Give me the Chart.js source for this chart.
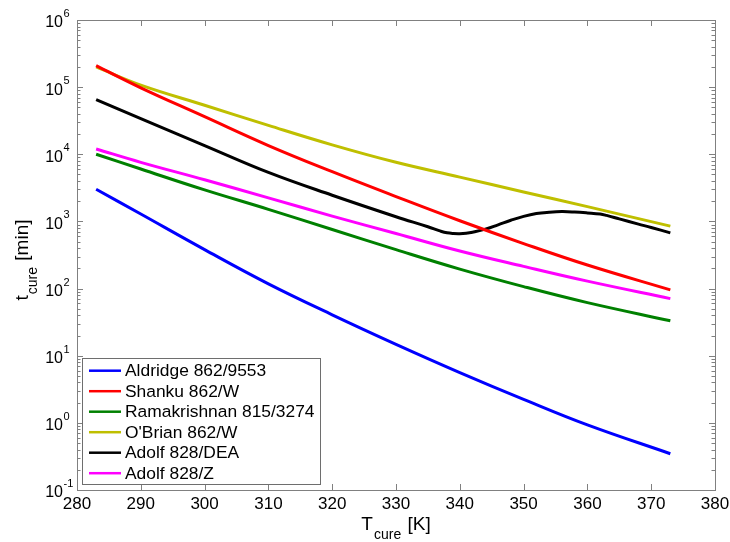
<!DOCTYPE html>
<html>
<head>
<meta charset="utf-8">
<script src="https://cdn.jsdelivr.net/npm/chart.js@4.4.1/dist/chart.umd.min.js"></script>
<style>
  body { margin: 0; background: #fff; }
</style>
</head>
<body>
<canvas id="cureChart" width="730" height="542"></canvas>
<script>
// ================= DATA =================
const temps = [283, 290, 300, 310, 320, 330, 340, 350, 360, 373];

const aldridge = [3020, 1288, 380, 117.5, 40.7, 14.8, 5.62, 2.24, 0.933, 0.347];
const shanku = [208900, 97700, 36300, 13490, 5500, 2344, 1023, 468, 224, 95.5];
const ramakrishnan = [10000, 6030, 2950, 1514, 759, 380, 195, 107, 61.7, 33.1];
const obrian = [200000, 107000, 53700, 26900, 13800, 7590, 4570, 2750, 1660, 851];
const adolfZ = [12000, 7590, 4170, 2240, 1200, 661, 363, 214, 129, 70.8];

// the DEA curve has a dip and a bump, so it gets its own temperatures
const deaTemps = [283, 290, 300, 310, 320, 330, 335, 337, 338, 339, 340, 341, 342, 344, 346,
  348, 350, 352, 354, 356, 358, 360, 362, 363, 365, 368, 370, 373];
const adolfDEA = [65300, 33900, 13490, 5370, 2455, 1175, 832, 716, 676, 661, 658, 668, 692, 767, 891,
  1040, 1190, 1310, 1370, 1400, 1380, 1340, 1290, 1230, 1090, 912, 813, 676];

const xTicks = [280, 290, 300, 310, 320, 330, 340, 350, 360, 370, 380];
const yExponents = [-1, 0, 1, 2, 3, 4, 5, 6];

const FONT = '"Liberation Sans", Arial, sans-serif';
const FRAME = "#808080";

function pts(xs, ys) {
  return xs.map((x, i) => ({ x: x, y: ys[i] }));
}

function series(label, xs, ys, color) {
  return {
    label: label,
    data: pts(xs, ys),
    borderColor: color,
    backgroundColor: color,
    borderWidth: 3,
    pointRadius: 0,
    fill: false,
    tension: 0.4
  };
}

// ================= FRAME, TICKS, LABELS =================
const framePlugin = {
  id: "frame",
  beforeDatasetsDraw(chart) {
    const ctx = chart.ctx;
    const a = chart.chartArea;
    const xs = chart.scales.x;
    const ys = chart.scales.y;
    ctx.save();
    ctx.strokeStyle = FRAME;
    ctx.lineWidth = 1;
    ctx.strokeRect(a.left + 0.5, a.top + 0.5, a.right - a.left, a.bottom - a.top);

    ctx.beginPath();
    xTicks.forEach(t => {
      const px = Math.round(xs.getPixelForValue(t)) + 0.5;
      ctx.moveTo(px, a.bottom); ctx.lineTo(px, a.bottom - 6);
      ctx.moveTo(px, a.top); ctx.lineTo(px, a.top + 6);
    });
    yExponents.forEach(e => {
      for (let m = 1; m <= 9; m++) {
        const v = m * Math.pow(10, e);
        if (v > 1e6) break;
        const py = Math.round(ys.getPixelForValue(v)) + 0.5;
        const len = m === 1 ? 6 : 3.5;
        ctx.moveTo(a.left, py); ctx.lineTo(a.left + len, py);
        ctx.moveTo(a.right, py); ctx.lineTo(a.right - len, py);
      }
    });
    ctx.stroke();
    ctx.restore();
  },
  afterDraw(chart) {
    const ctx = chart.ctx;
    const ys = chart.scales.y;
    ctx.save();
    ctx.fillStyle = "#000";

    // y tick labels as 10^n
    yExponents.forEach(e => {
      const py = ys.getPixelForValue(Math.pow(10, e));
      ctx.font = "16px " + FONT;
      ctx.textAlign = "right";
      ctx.textBaseline = "middle";
      ctx.fillText("10", 63, py + 3);
      ctx.font = "11px " + FONT;
      ctx.textAlign = "left";
      ctx.fillText(String(e), 63.5, py - 6);
    });

    // x axis title: T_cure [K]
    drawSubTitle(ctx, "T", "cure", " [K]", 396, 530);

    // y axis title: t_cure [min]
    ctx.translate(28, 260);
    ctx.rotate(-Math.PI / 2);
    drawSubTitle(ctx, "t", "cure", " [min]", 0, 0);
    ctx.restore();

    // legend box
    ctx.save();
    const bx = 82.5, by = 358.5, bw = 238, bh = 126;
    ctx.fillStyle = "#fff";
    ctx.fillRect(bx, by, bw, bh);
    ctx.strokeStyle = "#6e6e6e";
    ctx.lineWidth = 1;
    ctx.strokeRect(bx, by, bw, bh);
    ctx.font = "17.4px " + FONT;
    ctx.textAlign = "left";
    ctx.textBaseline = "middle";
    chart.data.datasets.forEach((ds, i) => {
      const cy = 370.7 + i * 20.5;
      ctx.strokeStyle = ds.borderColor;
      ctx.lineWidth = 2.5;
      ctx.beginPath();
      ctx.moveTo(89, cy); ctx.lineTo(121, cy);
      ctx.stroke();
      ctx.fillStyle = "#000";
      ctx.fillText(ds.label, 125, cy + 1);
    });
    ctx.restore();
  }
};

function drawSubTitle(ctx, main, sub, rest, cx, baseY) {
  ctx.textAlign = "left";
  ctx.textBaseline = "alphabetic";
  ctx.font = "19px " + FONT;
  const w1 = ctx.measureText(main).width;
  const w3 = ctx.measureText(rest).width;
  ctx.font = "14px " + FONT;
  const w2 = ctx.measureText(sub).width;
  let x = cx - (w1 + w2 + w3 + 2) / 2;
  ctx.font = "19px " + FONT;
  ctx.fillText(main, x, baseY);
  x += w1 + 1;
  ctx.font = "14px " + FONT;
  ctx.fillText(sub, x, baseY + 9);
  x += w2 + 1;
  ctx.font = "19px " + FONT;
  ctx.fillText(rest, x, baseY);
}

// ================= CHART =================
new Chart(document.getElementById("cureChart"), {
  type: "line",
  data: {
    datasets: [
      series("Aldridge 862/9553", temps, aldridge, "#0000ff"),
      series("Shanku 862/W", temps, shanku, "#ff0000"),
      series("Ramakrishnan 815/3274", temps, ramakrishnan, "#008000"),
      series("O'Brian 862/W", temps, obrian, "#bfbf00"),
      series("Adolf 828/DEA", deaTemps, adolfDEA, "#000000"),
      series("Adolf 828/Z", temps, adolfZ, "#ff00ff")
    ]
  },
  options: {
    responsive: false,
    animation: false,
    devicePixelRatio: 1,
    layout: { padding: { left: 0, top: 20, right: 15, bottom: 0 } },
    plugins: {
      legend: { display: false },
      tooltip: { enabled: false }
    },
    scales: {
      x: {
        type: "linear",
        min: 280,
        max: 380,
        grid: { display: false },
        border: { display: false },
        ticks: {
          stepSize: 10,
          padding: -4,
          color: "#000",
          font: { family: FONT, size: 17 },
          maxRotation: 0
        },
        afterFit: s => { s.height = 52; }
      },
      y: {
        type: "logarithmic",
        min: 0.1,
        max: 1e6,
        grid: { display: false },
        border: { display: false },
        ticks: { display: false },
        afterFit: s => { s.width = 77; }
      }
    }
  },
  plugins: [framePlugin]
});
</script>
</body>
</html>
